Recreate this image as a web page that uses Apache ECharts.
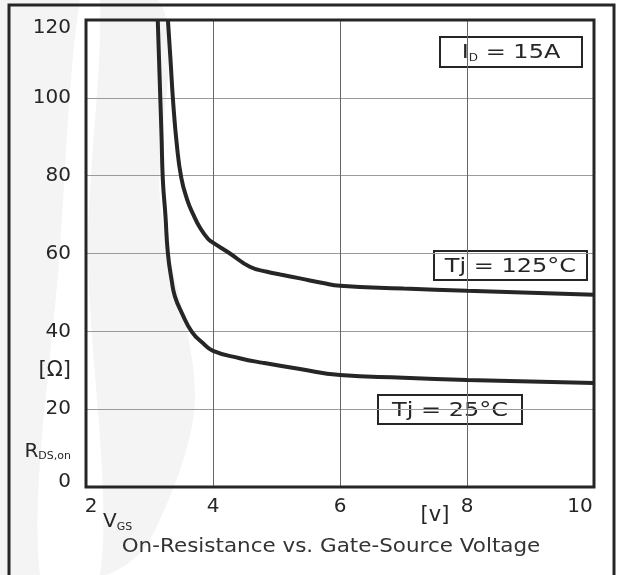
<!DOCTYPE html>
<html>
<head>
<meta charset="utf-8">
<script src="https://cdn.jsdelivr.net/npm/echarts@6/dist/echarts.min.js"></script>
<style>
  html, body { margin: 0; padding: 0; background: #fff; }
  #chart { width: 620px; height: 575px; }
</style>
</head>
<body>
<div id="chart"></div>
<script>
// x ticks (V_GS) and y ticks (R_DS,on)
const xTicks = [2, 4, 6, 8, 10];
const yTicks = [0, 20, 40, 60, 80, 100, 120];

// values: [V_GS, R_DS,on]
const tj25 = [
  [3.13, 120], [3.15, 110], [3.17, 100], [3.19, 90], [3.21, 79], [3.25, 70],
  [3.29, 60], [3.35, 53], [3.40, 49], [3.51, 44.7], [3.67, 39.8], [3.84, 37],
  [4.0, 35], [4.42, 33.1], [4.79, 31.9], [5.37, 30.3], [6, 28.8], [7, 28.1],
  [8, 27.5], [9, 27.1], [10, 26.7]
];
const tj125 = [
  [3.29, 120], [3.33, 110], [3.37, 99.5], [3.43, 88], [3.50, 79.5], [3.59, 74],
  [3.69, 70], [3.80, 66.5], [3.92, 63.8], [4.0, 62.8], [4.25, 60.2], [4.58, 56.6],
  [4.85, 55.3], [5.06, 54.6], [5.37, 53.6], [5.73, 52.4], [6, 51.7], [7, 51],
  [8, 50.4], [9, 49.9], [10, 49.4]
];

const font = 'DejaVu Sans, Verdana, sans-serif';
const ink = '#262626';

function labelBox(x, y, w, h, rich, text) {
  return {
    type: 'group', x: x, y: y, z: 20,
    children: [
      { type: 'rect', shape: { x: 0, y: 0, width: w, height: h },
        style: { fill: '#fff', stroke: ink, lineWidth: 2 } },
      { type: 'text', x: w / 2, y: h / 2 + 1, scaleX: 1.2,
        style: { text: text, rich: rich, fill: ink, font: '20px ' + font,
                 align: 'center', verticalAlign: 'middle' } }
    ]
  };
}

const subRich = {
  b: { fontSize: 20, fontFamily: font, fill: ink },
  s: { fontSize: 10, fontFamily: font, fill: ink, padding: [10, 0, 0, 0] }
};

const chart = echarts.init(document.getElementById('chart'));
chart.setOption({
  animation: false,
  backgroundColor: '#fff',
  grid: {
    left: 86, top: 20, width: 508, height: 467,
    show: true, borderColor: ink, borderWidth: 3, z: 3
  },
  xAxis: {
    type: 'value', min: xTicks[0], max: xTicks[xTicks.length - 1], interval: 2,
    axisLine: { show: false }, axisTick: { show: false },
    axisLabel: {
      fontSize: 20, fontFamily: font, color: ink, margin: 10,
      formatter: v => v === xTicks[0] ? '{l|' + v + '}' : v === xTicks[xTicks.length - 1] ? '{r|' + v + '}' : '' + v,
      rich: {
        l: { fontSize: 20, fontFamily: font, color: ink, padding: [0, 0, 6, 10] },
        r: { fontSize: 20, fontFamily: font, color: ink, padding: [0, 28, 0, 0] }
      }
    },
    splitLine: { lineStyle: { color: '#666', width: 1 } }
  },
  yAxis: {
    type: 'value', min: yTicks[0], max: yTicks[yTicks.length - 1], interval: 20,
    axisLine: { show: false }, axisTick: { show: false },
    axisLabel: {
      fontSize: 20, fontFamily: font, color: ink, margin: 15,
      formatter: v => v === yTicks[yTicks.length - 1] ? '{t|' + v + '}' : v === yTicks[0] ? '{b|' + v + '}' : '' + v,
      rich: {
        t: { fontSize: 20, fontFamily: font, color: ink, padding: [16, 0, 0, 0] },
        b: { fontSize: 20, fontFamily: font, color: ink, padding: [0, 0, 10, 0] }
      }
    },
    splitLine: { lineStyle: { color: '#9a9a9a', width: 1 } }
  },
  series: [
    { name: 'Tj = 25°C', type: 'line', data: tj25, smooth: 0.5, showSymbol: false,
      lineStyle: { color: ink, width: 4 }, z: 5 },
    { name: 'Tj = 125°C', type: 'line', data: tj125, smooth: 0.5, showSymbol: false,
      lineStyle: { color: ink, width: 4 }, z: 5 }
  ],
  graphic: [
    // faint watermark in the background
    { type: 'polygon', z: -10, silent: true,
      shape: { points: [[0, 0], [158, 0], [160, 200], [195, 400], [150, 540], [105, 575], [0, 575]], smooth: 0.3 },
      style: { fill: '#f4f4f4' } },
    { type: 'polygon', z: -9, silent: true,
      shape: { points: [[80, 0], [100, 0], [88, 250], [100, 575], [40, 575], [60, 250]], smooth: 0.3 },
      style: { fill: '#fff' } },
    // outer frame
    { type: 'rect', z: 1, shape: { x: 9, y: 5, width: 605, height: 600 },
      style: { fill: 'none', stroke: ink, lineWidth: 3 } },
    labelBox(440, 37, 142, 30, subRich, '{b|I}{s|D}{b| = 15A}'),
    labelBox(434, 251, 153, 29, subRich, '{b|Tj = 125°C}'),
    labelBox(378, 395, 144, 29, subRich, '{b|Tj = 25°C}'),
    { type: 'text', x: 71, y: 371,
      style: { text: '[Ω]', font: '21px ' + font, fill: ink, align: 'right', verticalAlign: 'middle' } },
    { type: 'text', x: 71, y: 452,
      style: { text: '{r|R}{s|DS,on}', align: 'right', verticalAlign: 'middle',
               rich: { r: { fontSize: 20, fontFamily: font, fill: ink },
                       s: { fontSize: 11, fontFamily: font, fill: ink, padding: [9, 0, 0, 0] } } } },
    { type: 'text', x: 103, y: 522,
      style: { text: '{r|V}{s|GS}', verticalAlign: 'middle',
               rich: { r: { fontSize: 20, fontFamily: font, fill: ink },
                       s: { fontSize: 11, fontFamily: font, fill: ink, padding: [10, 0, 0, 0] } } } },
    { type: 'text', x: 435, y: 516,
      style: { text: '[v]', font: '21px ' + font, fill: ink, align: 'center', verticalAlign: 'middle' } },
    { type: 'text', x: 331, y: 547, scaleX: 1.13,
      style: { text: 'On-Resistance vs. Gate-Source Voltage', font: '19px ' + font, fill: '#333',
               align: 'center', verticalAlign: 'middle' } }
  ]
});
</script>
</body>
</html>
